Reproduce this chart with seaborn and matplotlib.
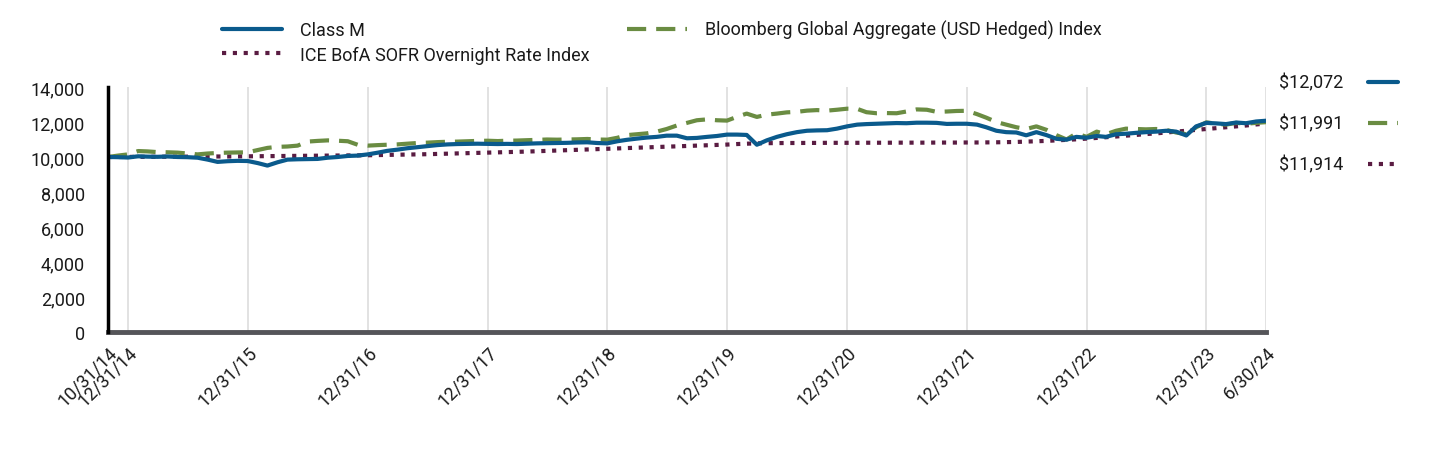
import numpy as np
import pandas as pd
import matplotlib
matplotlib.use("Agg")
import matplotlib.pyplot as plt
from matplotlib.lines import Line2D
from matplotlib.ticker import FuncFormatter
import seaborn as sns

# ---------------- data ----------------
start_date = "2014-10-31"
end_date = "2024-06-30"

class_m = [
    10000, 9990, 9970, 10040, 10020, 10010, 10030, 10000, 9990, 9960, 9850, 9720, 9760, 9780, 9770,
    9650, 9510, 9700, 9850, 9870, 9880, 9890, 9960, 10000, 10060, 10080, 10150,
    10250, 10350, 10420, 10500, 10560, 10620, 10680, 10720, 10740, 10750, 10760, 10750,
    10740, 10750, 10740, 10760, 10780, 10790, 10800, 10810, 10830, 10840, 10800, 10780,
    10900, 10980, 11050, 11110, 11150, 11220, 11220, 11070, 11090, 11150, 11200, 11280,
    11280, 11260, 10700, 10950, 11150, 11300, 11420, 11500, 11520, 11530, 11620, 11750,
    11850, 11880, 11900, 11920, 11940, 11930, 11960, 11960, 11950, 11890, 11900, 11900,
    11850, 11700, 11500, 11420, 11400, 11240, 11420, 11250, 11040, 10990, 11150, 11100,
    11200, 11150, 11300, 11330, 11380, 11420, 11450, 11500, 11450, 11230, 11750, 11950,
    11920, 11880, 11970, 11930, 12030, 12072,
]

bloomberg = [
    10000, 10080, 10150, 10340, 10320, 10280, 10270, 10250, 10200, 10150, 10200, 10230, 10250, 10260, 10270,
    10400, 10520, 10580, 10600, 10650, 10880, 10920, 10950, 10930, 10900, 10700, 10650,
    10680, 10700, 10720, 10760, 10800, 10820, 10850, 10870, 10880, 10900, 10920, 10930,
    10910, 10930, 10940, 10960, 10980, 11000, 10990, 11000, 11010, 11030, 11000, 10990,
    11100, 11250, 11300, 11350, 11450, 11600, 11800, 11950, 12100, 12150, 12100, 12080,
    12300, 12480, 12290, 12420, 12480, 12550, 12580, 12650, 12680, 12650, 12700, 12760,
    12750, 12560, 12500, 12510, 12500, 12600, 12720, 12700, 12580, 12600, 12630, 12640,
    12450, 12250, 12000, 11850, 11700, 11600, 11750, 11550, 11250, 11000, 11350, 11150,
    11450, 11300, 11500, 11620, 11600, 11580, 11600, 11550, 11400, 11300, 11700, 11980,
    11900, 11850, 11950, 11900, 11950, 11991,
]

sofr = [
    10000, 10000, 10005, 10010, 10010, 10015, 10015, 10020, 10020, 10025, 10025, 10030, 10030, 10035, 10040,
    10045, 10050, 10055, 10060, 10065, 10070, 10075, 10080, 10085, 10090, 10095, 10100,
    10110, 10120, 10130, 10140, 10150, 10160, 10175, 10190, 10205, 10220, 10235, 10250,
    10265, 10280, 10295, 10310, 10330, 10350, 10370, 10390, 10410, 10430, 10450, 10470,
    10490, 10510, 10530, 10550, 10570, 10590, 10610, 10630, 10650, 10670, 10690, 10710,
    10740, 10760, 10780, 10790, 10795, 10800, 10800, 10805, 10805, 10810, 10810, 10810,
    10810, 10815, 10815, 10815, 10820, 10820, 10820, 10820, 10825, 10825, 10825, 10830,
    10830, 10835, 10840, 10850, 10860, 10880, 10900, 10920, 10950, 10980, 11010, 11050,
    11090, 11130, 11170, 11220, 11260, 11310, 11350, 11400, 11450, 11500, 11550, 11600,
    11650, 11700, 11750, 11800, 11860, 11914,
]

series_names = ["Class M", "Bloomberg Global Aggregate (USD Hedged) Index", "ICE BofA SOFR Overnight Rate Index"]
end_values = ["$12,072", "$11,991", "$11,914"]

x_tick_labels = ["10/31/14", "12/31/14", "12/31/15", "12/31/16", "12/31/17", "12/31/18",
                 "12/31/19", "12/31/20", "12/31/21", "12/31/22", "12/31/23", "6/30/24"]
y_ticks = [0, 2000, 4000, 6000, 8000, 10000, 12000, 14000]

# ---------------- style ----------------
sns.set_theme(style="white")
plt.rcParams["font.family"] = ["Roboto", "DejaVu Sans"]
FS = 13
TXT = "#1a1a1a"

c_blue = "#0a5a8c"
c_green = "#6a8c42"
c_purple = "#5a1c42"
dash_green = (0, (4.6, 2.4))
dot_purple = (0, (1, 1.6))

dates = pd.date_range(start_date, end_date, freq="ME")
df = pd.DataFrame({"date": dates, "Class M": class_m, "Bloomberg": bloomberg, "SOFR": sofr})

fig = plt.figure(figsize=(14.4, 4.56), dpi=100)
ax = fig.add_axes([108 / 1440, 1 - 333 / 456, (1266 - 108) / 1440, (333 - 88) / 456])

sns.lineplot(data=df, x="date", y="SOFR", ax=ax, color=c_purple, lw=3.0,
             linestyle=dot_purple, dash_capstyle="butt", zorder=3)
sns.lineplot(data=df, x="date", y="Bloomberg", ax=ax, color=c_green, lw=3.0,
             linestyle=dash_green, dash_capstyle="butt", zorder=4)
sns.lineplot(data=df, x="date", y="Class M", ax=ax, color=c_blue, lw=3.0, zorder=5)

ax.set_xlim(pd.Timestamp(start_date), pd.Timestamp(end_date))
ax.set_ylim(0, 14000)
ax.set_yticks(y_ticks)
ax.yaxis.set_major_formatter(FuncFormatter(lambda v, p: f"{int(v):,}"))

tick_pos = pd.to_datetime(x_tick_labels, format="%m/%d/%y")
ax.set_xticks(tick_pos)
ax.set_xticklabels(x_tick_labels, rotation=45, ha="right", rotation_mode="anchor")
ax.set_xlabel("")
ax.set_ylabel("")

ax.grid(False)
for tp in tick_pos:
    ax.axvline(tp, color="#dddddd", lw=1.2, zorder=0)

ax.tick_params(axis="both", length=0, labelsize=FS, colors=TXT)
ax.tick_params(axis="y", pad=16.5)
ax.tick_params(axis="x", pad=8)

for s in ["top", "right"]:
    ax.spines[s].set_visible(False)
ax.spines["left"].set_color("black")
ax.spines["left"].set_linewidth(2.5)
ax.spines["bottom"].set_color("#555559")
ax.spines["bottom"].set_linewidth(3.5)
ax.spines["left"].set_zorder(6)

# legend
h_blue = Line2D([], [], color=c_blue, lw=3.0)
h_green = Line2D([], [], color=c_green, lw=3.0, linestyle=dash_green)
h_purple = Line2D([], [], color=c_purple, lw=3.0, linestyle=dot_purple)
leg = fig.legend([h_blue, h_purple, h_green],
                 [series_names[0], series_names[2], series_names[1]],
                 ncol=2, loc="upper left", bbox_to_anchor=(206 / 1440, 1 - 5 / 456),
                 frameon=False, fontsize=FS, handlelength=3.3, handletextpad=1.0,
                 columnspacing=2.1, labelspacing=0.35)
for t in leg.get_texts():
    t.set_color(TXT)

# right-side end value labels
label_y = [83, 124, 165]
styles = [dict(color=c_blue, linestyle="-"),
          dict(color=c_green, linestyle=dash_green),
          dict(color=c_purple, linestyle=dot_purple)]
for txt, yy, st in zip(end_values, label_y, styles):
    fig.text(1279 / 1440, 1 - yy / 456, txt, ha="left", va="center", fontsize=FS, color=TXT)
    fig.add_artist(Line2D([1368 / 1440, 1398 / 1440], [1 - yy / 456, 1 - yy / 456],
                          transform=fig.transFigure, lw=3.0, dash_capstyle="butt", **st))

fig.savefig("out.png", dpi=100)
